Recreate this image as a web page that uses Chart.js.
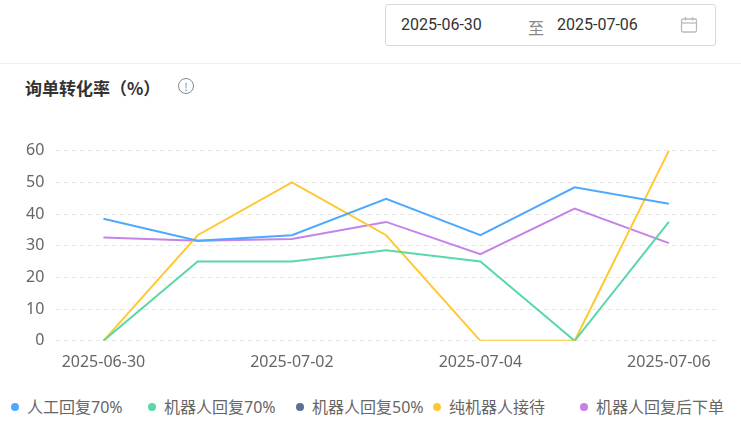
<!DOCTYPE html>
<html><head><meta charset="utf-8">
<script src="https://cdn.jsdelivr.net/npm/chart.js@4"></script>
<style>
body{margin:0;width:741px;height:444px;background:#fff;font-family:"Noto Sans CJK SC","Noto Sans",sans-serif;position:relative;overflow:hidden}
.picker{position:absolute;left:385px;top:4px;width:331px;height:42px;border:1px solid #d9d9d9;border-radius:3px;box-sizing:border-box;font-size:16px;color:#333;font-family:Roboto,"Noto Sans CJK SC"}
.picker span{position:absolute;top:10px}
.sep{position:absolute;left:0;top:63px;width:741px;height:1px;background:#f0f0f0}
.title{position:absolute;left:25px;top:75px;font-size:17px;font-weight:bold;color:#333}
.info{position:absolute;left:178px;top:78px;width:14px;height:14px;border:1.3px solid #888;border-radius:50%;font-size:11px;line-height:14px;text-align:center;color:#888}
#wrap{position:absolute;left:14px;top:129px;width:702px;height:247px}
.lg{position:absolute;top:394px;font-size:16px;color:#666;white-space:nowrap;font-family:"Noto Sans","Noto Sans CJK SC"}
.lg i{display:inline-block;width:8px;height:8px;border-radius:50%;margin-right:8px;vertical-align:2px}
</style></head><body>
<div class="picker"><span style="left:15px">2025-06-30</span><span style="left:142px;color:#888">至</span><span style="left:171px">2025-07-06</span>
<svg style="position:absolute;left:294px;top:11px" width="18" height="18" viewBox="0 0 18 18"><rect x="1.5" y="3" width="15" height="13" rx="1.5" fill="none" stroke="#bbb" stroke-width="1.3"/><line x1="1.5" y1="7" x2="16.5" y2="7" stroke="#bbb" stroke-width="1.3"/><line x1="5.5" y1="1" x2="5.5" y2="4.5" stroke="#bbb" stroke-width="1.3"/><line x1="12.5" y1="1" x2="12.5" y2="4.5" stroke="#bbb" stroke-width="1.3"/></svg></div>
<div class="sep"></div>
<div class="title">询单转化率（%）</div>
<div class="info">!</div>
<div id="wrap"><canvas id="c"></canvas></div>
<div id="legend"></div>
<script>
const categories=["2025-06-30","2025-07-01","2025-07-02","2025-07-03","2025-07-04","2025-07-05","2025-07-06"];
const seriesNames=['人工回复70%','机器人回复70%','机器人回复50%','纯机器人接待','机器人回复后下单'];
const manual70=[38.5,31.6,33.3,44.8,33.3,48.4,43.2];
const robot70=[0,25,25,28.6,25,0,37.5];
const robot50=[null,null,null,null,null,null,null];
const pureRobot=[0,33.3,50,33.3,0,0,60];
const robotOrder=[32.6,31.6,32.1,37.5,27.3,41.7,30.8];
const yTicks=[0,10,20,30,40,50,60];
const colors=['#4DA9FF','#5AD8A6','#5B7092','#FFC833','#C583E8'];
const values=[manual70,robot70,robot50,pureRobot,robotOrder];
const ds=(label,data,color)=>({label,data,borderColor:color,backgroundColor:color,borderWidth:2,pointRadius:0,tension:0,fill:false});
new Chart(document.getElementById('c'),{type:'line',
data:{labels:categories,datasets:seriesNames.map((n,i)=>ds(n,values[i],colors[i]))},
options:{responsive:true,maintainAspectRatio:false,animation:false,
plugins:{legend:{display:false},tooltip:{enabled:false}},
scales:{x:{offset:true,grid:{display:false},border:{display:false},ticks:{color:'#666',font:{size:16,family:'"Noto Sans"'},maxRotation:0,autoSkip:true,maxTicksLimit:4,padding:4}},
y:{min:0,max:60,afterBuildTicks:a=>{a.ticks=yTicks.map(v=>({value:v}))},grid:{color:'#e6e6e6',drawTicks:false},border:{display:false,dash:[4,4]},ticks:{color:'#666',font:{size:16,family:'"Noto Sans"'},padding:12}}}}});
const lx=[11,148,296,433,580];
document.getElementById('legend').innerHTML=seriesNames.map((n,i)=>`<div class="lg" style="left:${lx[i]}px"><i style="background:${colors[i]}"></i>${n}</div>`).join('');
</script></body></html>
